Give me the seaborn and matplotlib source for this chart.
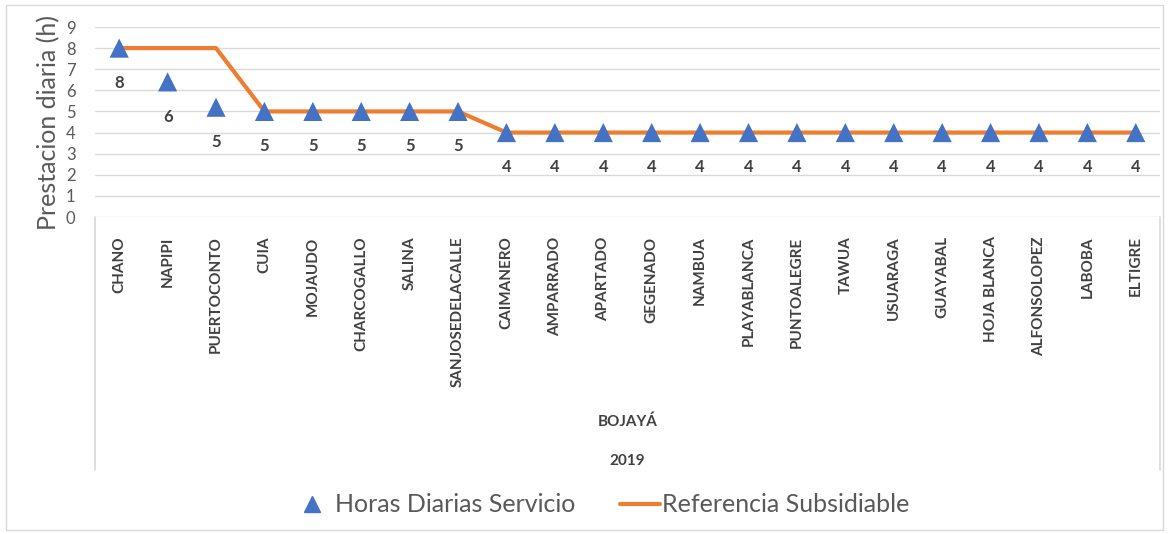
import matplotlib
matplotlib.use("Agg")
import matplotlib.pyplot as plt
import seaborn as sns
import pandas as pd
from matplotlib.patches import Rectangle
from matplotlib.lines import Line2D

# data
comunidades = ["CHANO", "NAPIPI", "PUERTOCONTO", "CUIA", "MOJAUDO", "CHARCOGALLO",
               "SALINA", "SANJOSEDELACALLE", "CAIMANERO", "AMPARRADO", "APARTADO",
               "GEGENADO", "NAMBUA", "PLAYABLANCA", "PUNTOALEGRE", "TAWUA",
               "USUARAGA", "GUAYABAL", "HOJA BLANCA", "ALFONSOLOPEZ", "LABOBA", "ELTIGRE"]
horas_servicio = [8, 6.4, 5.2, 5, 5, 5, 5, 5, 4, 4, 4, 4, 4, 4, 4, 4, 4, 4, 4, 4, 4, 4]
referencia = [8, 8, 8, 5, 5, 5, 5, 5, 4, 4, 4, 4, 4, 4, 4, 4, 4, 4, 4, 4, 4, 4]
municipio = "BOJAYÁ"
anio = "2019"

df = pd.DataFrame({"comunidad": comunidades, "horas": horas_servicio, "ref": referencia})
df["pos"] = range(len(df))

sns.set_style("white")
plt.rcParams["font.family"] = ["Lato", "DejaVu Sans"]

W, H = 1169, 534
fig = plt.figure(figsize=(W / 100, H / 100), dpi=100)
ax = fig.add_axes([95 / W, 1 - 217 / H, (1160 - 95) / W, (217 - 27) / H])

sns.lineplot(data=df, x="pos", y="ref", color="#ED7D31", linewidth=3, sort=False,
             ax=ax, zorder=3, label="Referencia Subsidiable")
sns.scatterplot(data=df, x="pos", y="horas", marker="^", s=190, color="#4472C4",
                edgecolor="none", ax=ax, zorder=4, label="Horas Diarias Servicio")

for p, v in zip(df["pos"], df["horas"]):
    ax.annotate(f"{v:.0f}", (p, v), xytext=(0, -25), textcoords="offset points",
                ha="center", va="center", fontsize=12, fontweight="bold", color="#404040")

ax.set_xlim(-0.5, len(df) - 0.5)
ax.set_ylim(0, 9)
ax.set_yticks(range(10))
ax.yaxis.grid(True, color="#D9D9D9", linewidth=1)
ax.xaxis.grid(False)
for s in ax.spines.values():
    s.set_visible(False)
ax.tick_params(axis="y", length=0, labelsize=12, labelcolor="#595959", pad=14)
ax.set_xticks(df["pos"])
ax.set_xticklabels(df["comunidad"], rotation=90, fontsize=11, fontweight="bold",
                   color="#404040", va="top")
ax.tick_params(axis="x", length=0, pad=14)
ax.set_xlabel("")
ax.set_ylabel("Prestacion diaria (h)", fontsize=18, color="#595959", labelpad=4)
ax.get_legend().remove()

# category table lines
for xp in (95, 1160):
    fig.add_artist(Line2D([xp / W, xp / W], [1 - 217 / H, 1 - 470 / H],
                          transform=fig.transFigure, color="#D9D9D9", linewidth=1.2))
fig.text((95 + 1160) / 2 / W, 1 - 422 / H, municipio, ha="center", va="center",
         fontsize=11, fontweight="bold", color="#404040")
fig.text((95 + 1160) / 2 / W, 1 - 461 / H, anio, ha="center", va="center",
         fontsize=11, fontweight="bold", color="#404040")

# outer chart border
fig.add_artist(Rectangle((6 / W, 4 / H), (1163 - 6) / W, (529 - 4) / H,
                         transform=fig.transFigure, fill=False,
                         edgecolor="#D9D9D9", linewidth=1))

handles = [Line2D([], [], marker="^", linestyle="none", color="#4472C4", markersize=12),
           Line2D([], [], color="#ED7D31", linewidth=3)]
fig.legend(handles, ["Horas Diarias Servicio", "Referencia Subsidiable"],
           loc="center", bbox_to_anchor=(601 / W, 1 - 505 / H), ncol=2, frameon=False,
           fontsize=18, labelcolor="#595959", handlelength=1.6, handletextpad=0.1,
           columnspacing=1.8)

fig.savefig("out.png", dpi=100)
